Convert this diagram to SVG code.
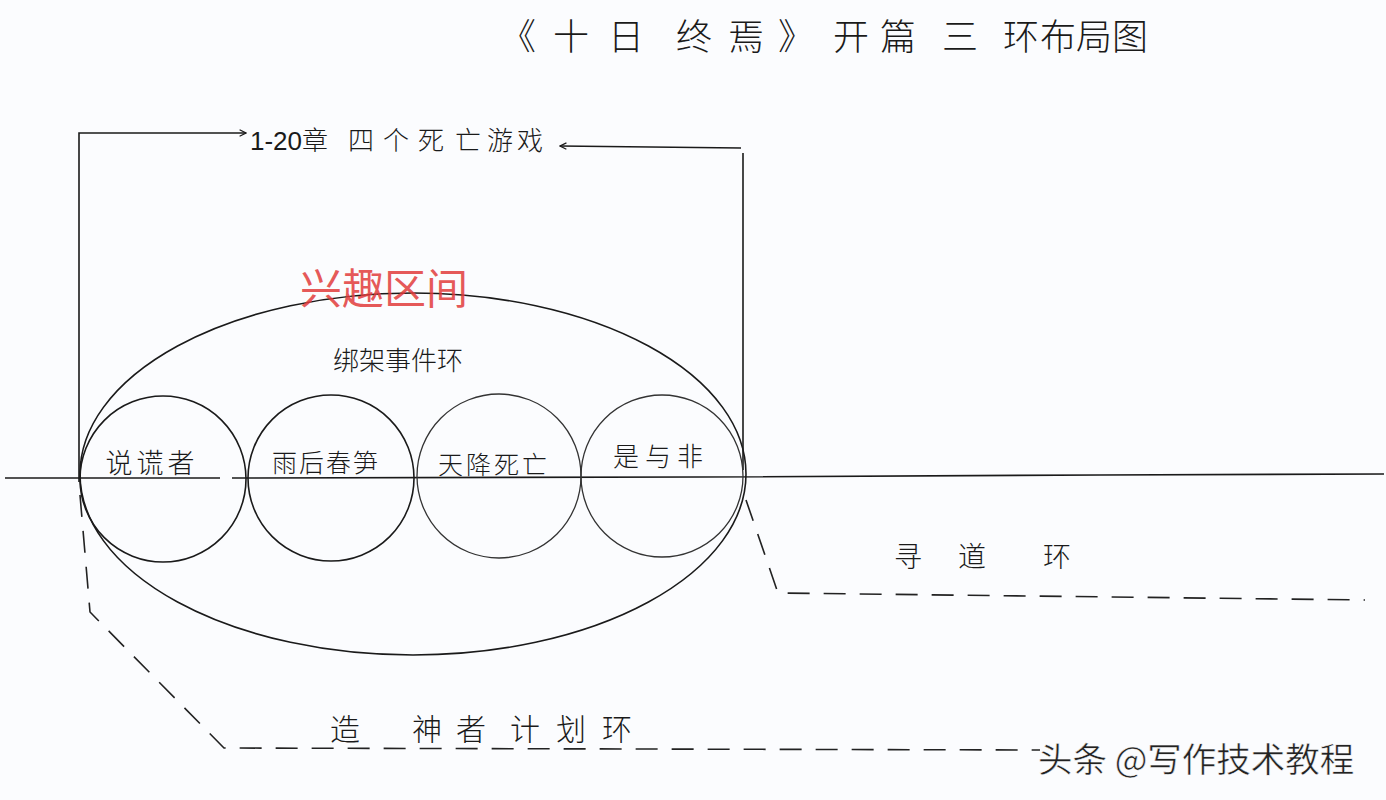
<svg xmlns="http://www.w3.org/2000/svg" width="1386" height="800" viewBox="0 0 1386 800">
<defs>
<style>
.hw{font-family:"Liberation Sans","Noto Sans CJK SC",sans-serif;fill:#1a1a1a;font-weight:300}
.ln{fill:none;stroke:#1a1a1a;stroke-width:1.6}
.thin{fill:none;stroke:#333;stroke-width:1.3}
.dash{fill:none;stroke:#222;stroke-width:1.6;stroke-dasharray:22 14}
</style>
<marker id="arr" viewBox="0 0 10 10" refX="9" refY="5" markerWidth="8" markerHeight="8" orient="auto-start-reverse" markerUnits="userSpaceOnUse">
<path d="M1,1 L9,5 L1,9" fill="none" stroke="#1a1a1a" stroke-width="1.5"/>
</marker>
</defs>
<rect width="1386" height="800" fill="#fbfcfe"/>

<g id="title">
<text class="hw" font-size="36" y="50"><tspan x="500">《</tspan><tspan x="553">十</tspan><tspan x="608">日</tspan><tspan x="676">终</tspan><tspan x="728">焉</tspan><tspan x="778">》</tspan><tspan x="833">开</tspan><tspan x="880">篇</tspan><tspan x="942">三</tspan><tspan x="1003">环</tspan><tspan x="1040">布</tspan><tspan x="1076">局</tspan><tspan x="1112">图</tspan></text>
</g>

<g id="connectors">
<polyline class="ln" points="79,482 79,133 246,133" marker-end="url(#arr)"/>
<polyline class="ln" points="743,470 743,153"/>
<line class="ln" x1="741" y1="148" x2="560" y2="146" marker-end="url(#arr)"/>
<polyline class="ln" points="5,478 220,478"/>
<polyline class="ln" points="232,478 700,477 1100,475 1384,474"/>
<polyline class="dash" points="746,500 778,593 1365,600"/>
<polyline class="dash" points="80,495 90,612 224,748 1040,750"/>
</g>

<g id="games-label">
<text class="hw" font-size="26" y="150"><tspan x="250">1-20章</tspan><tspan x="348">四</tspan><tspan x="383">个</tspan><tspan x="418">死</tspan><tspan x="455">亡</tspan><tspan x="487">游</tspan><tspan x="517">戏</tspan></text>
</g>

<g id="kidnap-ring">
<ellipse class="ln" cx="413" cy="474" rx="333" ry="181"/>
<text class="hw" font-size="26" x="398" y="370" text-anchor="middle" font-weight="400">绑架事件环</text>
</g>

<g id="interest">
<text font-family="'Noto Sans CJK SC',sans-serif" font-size="42" x="384" y="304" text-anchor="middle" fill="#e23b3b" fill-opacity="0.85">兴趣区间</text>
</g>

<g id="game1">
<circle class="ln" cx="163" cy="479" r="83"/>
<text class="hw" font-size="27" x="152" y="473" text-anchor="middle" letter-spacing="4">说谎者</text>
</g>
<g id="game2">
<circle class="ln" cx="331" cy="478" r="83"/>
<text class="hw" font-size="25" x="326" y="472" text-anchor="middle" letter-spacing="2">雨后春笋</text>
</g>
<g id="game3">
<circle class="thin" cx="499" cy="476" r="82"/>
<text class="hw" font-size="25" x="494" y="474" text-anchor="middle" letter-spacing="3">天降死亡</text>
</g>
<g id="game4">
<circle class="thin" cx="662" cy="476" r="81"/>
<text class="hw" font-size="26" x="661" y="466" text-anchor="middle" letter-spacing="6">是与非</text>
</g>

<g id="seek-ring">
<text class="hw" font-size="28" y="567"><tspan x="894">寻</tspan><tspan x="958">道</tspan><tspan x="1043">环</tspan></text>
</g>

<g id="god-ring">
<text class="hw" font-size="30" y="740"><tspan x="330">造</tspan><tspan x="412">神</tspan><tspan x="456">者</tspan><tspan x="510">计</tspan><tspan x="556">划</tspan><tspan x="602">环</tspan></text>
</g>

<g id="watermark">
<text font-family="'Noto Sans CJK SC',sans-serif" font-size="34.5" x="1038" y="772" fill="#222" stroke="#fff" stroke-width="0.5">头条 @写作技术教程</text>
</g>
</svg>
